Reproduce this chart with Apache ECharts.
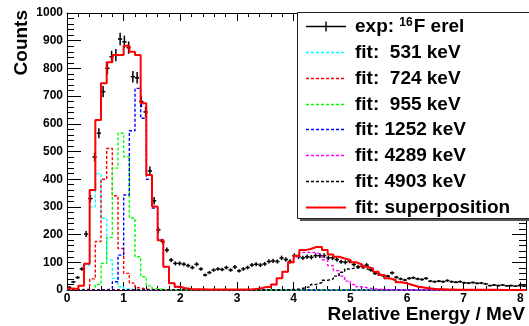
<!DOCTYPE html>
<html>
<head>
<meta charset="utf-8">
<script src="https://cdn.jsdelivr.net/npm/echarts@6/dist/echarts.min.js"></script>
<style>
  html, body { margin: 0; padding: 0; background: #fff; }
  #chart { width: 529px; height: 326px; }
</style>
</head>
<body>
<div id="chart"></div>
<script>
// measured 16F relative energy spectrum, bins of 0.075 MeV from 0
const dataBinWidth = 0.075;
const dataCounts = [
  10, 29, 45, 76, 202, 330, 480, 566, 716, 800,
  842, 848, 906, 896, 875, 770, 766, 680, 643, 430,
  322, 217, 175, 144, 108, 96, 96, 93, 88, 81,
  93, 76, 54, 63, 72, 76, 74, 81, 72, 83,
  69, 76, 81, 90, 93, 90, 94, 103, 105, 103,
  116, 110, 103, 124, 120, 116, 120, 118, 124, 124,
  124, 116, 116, 110, 102, 100, 104, 92, 84, 86,
  90, 72, 60, 56, 52, 50, 62, 46, 40, 36,
  42, 44, 40, 38, 42, 32, 30, 32, 30, 34,
  30, 28, 30, 26, 25, 27, 24, 25, 22, 16,
  18, 16, 18, 15, 16, 14, 16, 14
];

// fit components, bins of 0.1 MeV from 0 (81 bins)
const fitBinWidth = 0.1;
const fit531 = [
  0, 0, 3, 90, 300, 420, 259, 108, 42, 12,
  4, 1, 0, 0, 0, 0, 0, 0, 0, 0,
  0, 0, 0, 0, 0, 0, 0, 0, 0, 0,
  0, 0, 0, 0, 0, 0, 0, 0, 0, 0,
  0, 0, 0, 0, 0, 0, 0, 0, 0, 0,
  0, 0, 0, 0, 0, 0, 0, 0, 0, 0,
  0, 0, 0, 0, 0, 0, 0, 0, 0, 0,
  0, 0, 0, 0, 0, 0, 0, 0, 0, 0, 0
];
const fit724 = [
  0, 0, 0, 3, 40, 175, 400, 511, 340, 150,
  60, 25, 8, 3, 1, 0, 0, 0, 0, 0,
  0, 0, 0, 0, 0, 0, 0, 0, 0, 0,
  0, 0, 0, 0, 0, 0, 0, 0, 0, 0,
  0, 0, 0, 0, 0, 0, 0, 0, 0, 0,
  0, 0, 0, 0, 0, 0, 0, 0, 0, 0,
  0, 0, 0, 0, 0, 0, 0, 0, 0, 0,
  0, 0, 0, 0, 0, 0, 0, 0, 0, 0, 0
];
const fit955 = [
  0, 0, 0, 0, 2, 20, 96, 190, 440, 566,
  481, 260, 120, 48, 15, 5, 2, 0, 0, 0,
  0, 0, 0, 0, 0, 0, 0, 0, 0, 0,
  0, 0, 0, 0, 0, 0, 0, 0, 0, 0,
  0, 0, 0, 0, 0, 0, 0, 0, 0, 0,
  0, 0, 0, 0, 0, 0, 0, 0, 0, 0,
  0, 0, 0, 0, 0, 0, 0, 0, 0, 0,
  0, 0, 0, 0, 0, 0, 0, 0, 0, 0, 0
];
const fit1252 = [
  0, 0, 0, 0, 0, 0, 1, 5, 30, 126,
  343, 575, 728, 620, 400, 296, 180, 84, 24, 10,
  4, 2, 1, 0, 0, 0, 0, 0, 0, 0,
  0, 0, 0, 0, 0, 0, 0, 0, 0, 0,
  0, 0, 0, 0, 0, 0, 0, 0, 0, 0,
  0, 0, 0, 0, 0, 0, 0, 0, 0, 0,
  0, 0, 0, 0, 0, 0, 0, 0, 0, 0,
  0, 0, 0, 0, 0, 0, 0, 0, 0, 0, 0
];
const fit4289 = [
  0, 0, 0, 0, 0, 0, 0, 0, 0, 0,
  0, 0, 0, 0, 0, 0, 0, 0, 0, 0,
  0, 0, 0, 0, 0, 1, 1, 1, 1, 1,
  1, 2, 3, 5, 10, 12, 20, 42, 66, 98,
  121, 136, 136, 135, 128, 109, 88, 70, 50, 32,
  20, 12, 8, 5, 3, 2, 1, 0, 0, 0,
  0, 0, 0, 0, 0, 0, 0, 0, 0, 0,
  0, 0, 0, 0, 0, 0, 0, 0, 0, 0, 0
];
const fit4903 = [
  0, 0, 0, 0, 0, 0, 0, 0, 0, 0,
  0, 0, 0, 0, 0, 0, 0, 0, 0, 0,
  0, 0, 0, 0, 0, 0, 0, 0, 0, 0,
  0, 0, 0, 0, 0, 0, 0, 0, 1, 2,
  3, 8, 12, 20, 27, 35, 40, 50, 64, 76,
  80, 81, 76, 73, 63, 52, 41, 36, 28, 24,
  18, 12, 9, 6, 4, 3, 2, 1, 1, 0,
  0, 0, 0, 0, 0, 0, 0, 0, 0, 0, 0
];
const fitSum = [
  5, 4, 15, 95, 361, 614, 746, 822, 848, 848,
  882, 860, 848, 674, 415, 301, 180, 84, 24, 12,
  6, 4, 3, 3, 2, 2, 2, 2, 2, 2,
  2, 2, 3, 5, 10, 12, 20, 42, 66, 100,
  124, 144, 148, 155, 155, 144, 128, 120, 114, 108,
  100, 93, 84, 78, 66, 54, 42, 36, 28, 24,
  18, 12, 9, 6, 4, 3, 2, 2, 1, 1,
  1, 1, 1, 1, 1, 1, 0, 0, 0, 0, 0
];

const legendLabels = [
  'exp: {s|16}F erel',
  'fit:  531 keV',
  'fit:  724 keV',
  'fit:  955 keV',
  'fit: 1252 keV',
  'fit: 4289 keV',
  'fit: 4903 keV',
  'fit: superposition'
];

const xMax = 8.1;
const yMax = 1000;
const xMajorTicks = [0, 1, 2, 3, 4, 5, 6, 7, 8];
const xMinorTicks = [];
for (let i = 1; i <= 40; i++) xMinorTicks.push(+(i * 0.2).toFixed(1));

const font = "'Liberation Sans', Arial, Helvetica, sans-serif";
const errScale = 0.75;

// histogram outline: one point per bin edge, drawn as steps
function histPoints(counts, width) {
  const pts = counts.map((c, i) => [+(i * width).toFixed(3), c]);
  pts.push([+(counts.length * width).toFixed(3), counts[counts.length - 1]]);
  return pts;
}

function fitSeries(name, counts, color, dashed) {
  return {
    name: name,
    type: 'line',
    step: 'end',
    data: histPoints(counts, fitBinWidth),
    symbol: 'none',
    showSymbol: false,
    clip: true,
    silent: true,
    lineStyle: { color: color, width: dashed ? 1.4 : 2, type: dashed ? [3, 2] : 'solid' }
  };
}

const expData = dataCounts.map((c, i) => [
  +((i + 0.5) * dataBinWidth).toFixed(4), c, Math.sqrt(c) * errScale
]);

const blackLine = { color: '#000', width: 1 };

const chart = echarts.init(document.getElementById('chart'));
chart.setOption({
  animation: false,
  backgroundColor: '#fff',
  grid: [
    { left: 67, right: 3, top: 13, bottom: 36 },
    { left: 67, right: 3, top: 13, bottom: 36 }
  ],
  xAxis: [
    {
      gridIndex: 0, type: 'value', position: 'bottom', min: 0, max: xMax,
      axisLine: { show: true, onZero: false, lineStyle: blackLine },
      axisTick: { show: true, inside: true, length: 8, customValues: xMajorTicks, lineStyle: blackLine },
      axisLabel: {
        show: true, customValues: xMajorTicks, margin: 3, color: '#000',
        fontFamily: font, fontWeight: 'bold', fontSize: 12
      },
      splitLine: { show: false }
    },
    {
      gridIndex: 0, type: 'value', position: 'top', min: 0, max: xMax,
      axisLine: { show: true, onZero: false, lineStyle: blackLine },
      axisTick: { show: true, inside: true, length: 8, customValues: xMajorTicks, lineStyle: blackLine },
      axisLabel: { show: false },
      splitLine: { show: false }
    },
    {
      gridIndex: 1, type: 'value', position: 'bottom', min: 0, max: xMax,
      axisLine: { show: false },
      axisTick: { show: true, inside: true, length: 4, customValues: xMinorTicks, lineStyle: blackLine },
      axisLabel: { show: false },
      splitLine: { show: false }
    },
    {
      gridIndex: 1, type: 'value', position: 'top', min: 0, max: xMax,
      axisLine: { show: false },
      axisTick: { show: true, inside: true, length: 4, customValues: xMinorTicks, lineStyle: blackLine },
      axisLabel: { show: false },
      splitLine: { show: false }
    }
  ],
  yAxis: [
    {
      gridIndex: 0, type: 'value', position: 'left', min: 0, max: yMax, interval: 100,
      axisLine: { show: true, onZero: false, lineStyle: blackLine },
      axisTick: { show: true, inside: true, length: 14, lineStyle: blackLine },
      minorTick: { show: true, splitNumber: 5, length: 7, lineStyle: blackLine },
      axisLabel: {
        show: true, margin: 4, color: '#000',
        fontFamily: font, fontWeight: 'bold', fontSize: 12,
        formatter: function (v) { return String(v); }
      },
      splitLine: { show: false }
    },
    {
      gridIndex: 0, type: 'value', position: 'right', min: 0, max: yMax, interval: 100,
      axisLine: { show: true, onZero: false, lineStyle: blackLine },
      axisTick: { show: true, inside: true, length: 14, lineStyle: blackLine },
      minorTick: { show: true, splitNumber: 5, length: 7, lineStyle: blackLine },
      axisLabel: { show: false },
      splitLine: { show: false }
    },
    { gridIndex: 1, type: 'value', show: false, min: 0, max: yMax }
  ],
  series: [
    {
      name: 'exp',
      type: 'custom',
      xAxisIndex: 0,
      yAxisIndex: 0,
      clip: true,
      silent: true,
      data: expData,
      encode: { x: 0, y: 1 },
      renderItem: function (params, api) {
        const x = api.value(0), y = api.value(1), e = api.value(2);
        const c = api.coord([x, y]);
        const lo = api.coord([x - dataBinWidth / 2, y - e]);
        const hi = api.coord([x + dataBinWidth / 2, y + e]);
        const st = { stroke: '#000', lineWidth: 1.5 };
        return {
          type: 'group',
          children: [
            { type: 'line', shape: { x1: lo[0], y1: c[1], x2: hi[0], y2: c[1] }, style: st },
            { type: 'line', shape: { x1: c[0], y1: lo[1], x2: c[0], y2: hi[1] }, style: st }
          ]
        };
      }
    },
    fitSeries('fit 531', fit531, '#00ffff', true),
    fitSeries('fit 724', fit724, '#ff0000', true),
    fitSeries('fit 955', fit955, '#00ff00', true),
    fitSeries('fit 1252', fit1252, '#0000ff', true),
    fitSeries('fit 4289', fit4289, '#ff00ff', true),
    fitSeries('fit 4903', fit4903, '#000000', true),
    fitSeries('superposition', fitSum, '#ff0000', false)
  ],
  graphic: buildGraphic()
});

function buildGraphic() {
  const els = [];
  const textStyle = { fontFamily: font, fontWeight: 'bold', fontSize: 19, fill: '#000' };

  // axis titles
  els.push({
    type: 'text', x: 525, y: 315, z: 100,
    style: Object.assign({ text: 'Relative Energy / MeV', align: 'right', verticalAlign: 'middle' }, textStyle)
  });
  els.push({
    type: 'text', x: 22, y: 10, rotation: Math.PI / 2, z: 100,
    style: Object.assign({ text: 'Counts', align: 'right', verticalAlign: 'middle' }, textStyle)
  });

  // legend box with shadow
  els.push({ type: 'rect', z: 100, shape: { x: 300, y: 15, width: 240, height: 206 }, style: { fill: '#555' } });
  els.push({ type: 'rect', z: 101, shape: { x: 297.5, y: 12.5, width: 240, height: 206 }, style: { fill: '#fff', stroke: '#222', lineWidth: 1 } });

  const lineColors = ['#000', '#00ffff', '#ff0000', '#00ff00', '#0000ff', '#ff00ff', '#000', '#ff0000'];
  legendLabels.forEach(function (label, i) {
    const y = Math.round(26 + i * 25.85) + 0.5;
    const dashed = i > 0 && i < 7;
    els.push({
      type: 'line', z: 102,
      shape: { x1: 306, y1: y, x2: 346, y2: y },
      style: { stroke: lineColors[i], lineWidth: i === 7 ? 2 : 1.4, lineDash: dashed ? [3, 2] : null }
    });
    if (i === 0) {
      els.push({
        type: 'line', z: 102,
        shape: { x1: 326, y1: y - 5, x2: 326, y2: y + 5 },
        style: { stroke: '#000', lineWidth: 1.4 }
      });
    }
    els.push({
      type: 'text', z: 102, x: 355, y: y,
      style: Object.assign({
        text: label, align: 'left', verticalAlign: 'middle',
        rich: { s: { fontFamily: font, fontWeight: 'bold', fontSize: 12, verticalAlign: 'top', lineHeight: 20, padding: [0, 1, 0, 0] } }
      }, textStyle)
    });
  });
  return els;
}
</script>
</body>
</html>
